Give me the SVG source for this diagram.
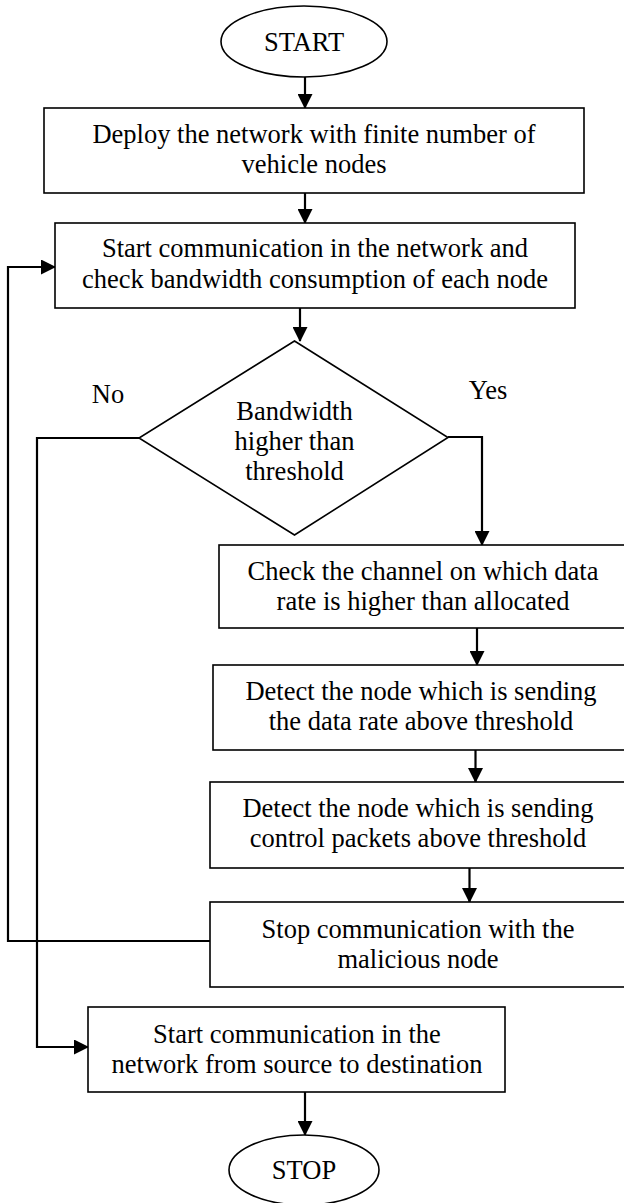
<svg xmlns="http://www.w3.org/2000/svg" width="624" height="1203" viewBox="0 0 624 1203">
<style>
.shape{fill:#fff;stroke:#000;stroke-width:1.6}
.conn{fill:none;stroke:#000;stroke-width:2.2}
text{font-family:"Liberation Serif","Times New Roman",serif;font-size:26.5px;fill:#000;text-anchor:middle}
</style>
<defs>
<marker id="arr" markerUnits="userSpaceOnUse" markerWidth="15" markerHeight="15" refX="14" refY="7.5" orient="auto">
<path d="M0,0 L15,7.5 L0,15 z" fill="#000"/>
</marker>
</defs>
<rect width="624" height="1203" fill="#fff"/>
<g id="connectors">
<line class="conn" x1="305" y1="77" x2="305" y2="108" marker-end="url(#arr)"/>
<line class="conn" x1="305" y1="193" x2="305" y2="223" marker-end="url(#arr)"/>
<line class="conn" x1="300" y1="308" x2="300" y2="341" marker-end="url(#arr)"/>
<polyline class="conn" points="139,438 37,438 37,1047 88,1047" marker-end="url(#arr)"/>
<polyline class="conn" points="448,437 482,437 482,545" marker-end="url(#arr)"/>
<line class="conn" x1="477" y1="628" x2="477" y2="665" marker-end="url(#arr)"/>
<line class="conn" x1="475.5" y1="750" x2="475.5" y2="782" marker-end="url(#arr)"/>
<line class="conn" x1="469.5" y1="868" x2="469.5" y2="902" marker-end="url(#arr)"/>
<polyline class="conn" points="210,941 8,941 8,267 55,267" marker-end="url(#arr)"/>
<line class="conn" x1="305" y1="1092" x2="305" y2="1135" marker-end="url(#arr)"/>
</g>
<g id="start">
<ellipse class="shape" cx="304" cy="41.5" rx="83" ry="35.5"/>
<text x="304" y="51">START</text>
</g>
<g id="deploy">
<rect class="shape" x="44" y="108" width="540" height="85"/>
<text x="314" y="143">Deploy the network with finite number of</text>
<text x="314" y="173">vehicle nodes</text>
</g>
<g id="startcomm">
<rect class="shape" x="55" y="223" width="520" height="85"/>
<text x="315" y="257">Start communication in the network and</text>
<text x="315" y="288">check bandwidth consumption of each node</text>
</g>
<g id="decision">
<polygon class="shape" points="294.5,341 448,437.5 294.5,535 139,438"/>
<text x="294.5" y="420">Bandwidth</text>
<text x="294.5" y="450">higher than</text>
<text x="294.5" y="480">threshold</text>
</g>
<g id="labels">
<text x="108" y="403">No</text>
<text x="488" y="399">Yes</text>
</g>
<g id="checkchannel">
<rect class="shape" x="219" y="545" width="408" height="83"/>
<text x="423" y="580">Check the channel on which data</text>
<text x="423" y="610">rate is higher than allocated</text>
</g>
<g id="detectrate">
<rect class="shape" x="213" y="665" width="416" height="85"/>
<text x="421" y="700">Detect the node which is sending</text>
<text x="421" y="730">the data rate above threshold</text>
</g>
<g id="detectcontrol">
<rect class="shape" x="210" y="782" width="416" height="86"/>
<text x="418" y="817">Detect the node which is sending</text>
<text x="418" y="847">control packets above threshold</text>
</g>
<g id="stopcomm">
<rect class="shape" x="210" y="902" width="416" height="85"/>
<text x="418" y="938">Stop communication with the</text>
<text x="418" y="968">malicious node</text>
</g>
<g id="finalcomm">
<rect class="shape" x="88" y="1007" width="417" height="85"/>
<text x="297" y="1043">Start communication in the</text>
<text x="297" y="1073">network from source to destination</text>
</g>
<g id="stop">
<ellipse class="shape" cx="304" cy="1170" rx="75" ry="35"/>
<text x="304" y="1179">STOP</text>
</g>
</svg>
